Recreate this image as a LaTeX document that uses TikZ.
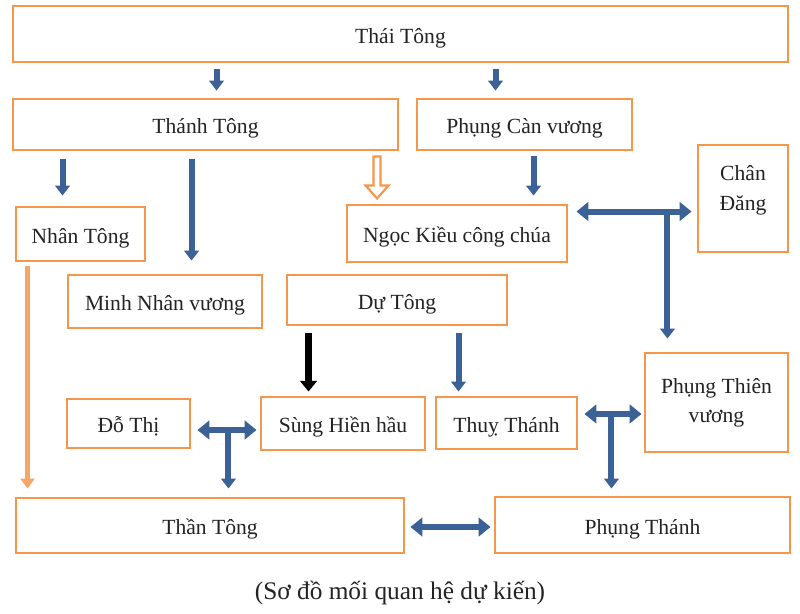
\documentclass[tikz,border=0pt]{standalone}
\usepackage{fontspec}
\setmainfont{Liberation Serif}
\usetikzlibrary{arrows.meta, calc}
\definecolor{boxorange}{RGB}{245,150,75}
\definecolor{arrowblue}{RGB}{59,97,150}
\definecolor{textgray}{RGB}{35,35,35}

\begin{document}
\begin{tikzpicture}[
  x=0.75pt, y=-0.75pt,
  pbox/.style={draw=boxorange, line width=2.2pt, align=center, inner sep=0pt, text=textgray, font=\fontsize{16.2}{22}\selectfont},
  oneline/.style={text height=1.6em, text depth=0.22em},
  boxsize/.style 2 args={minimum width=#1*0.75pt, minimum height=#2*0.75pt},
  blockarrow/.style={draw=arrowblue, line width=4.5pt, -{Triangle[width=11pt,length=7.5pt]}},
  dblarrow/.style={draw=arrowblue, line width=4.5pt, {Triangle[width=14pt,length=9pt]}-{Triangle[width=14pt,length=9pt]}},
  blackarrow/.style={draw=black, line width=5pt, -{Triangle[width=12.5pt,length=8pt]}},
  orangearrow/.style={draw=boxorange!85, line width=3.6pt, -{Triangle[width=10.5pt,length=7.5pt]}},
  hollowarrow/.style={draw=boxorange, line width=1.6pt, fill=white, line join=miter}
]
  \useasboundingbox[fill=white] (0,0) rectangle (800,614);

  % boxes
  \node[pbox, oneline, boxsize={775}{56}] (thai) at (400.5,34) {Thái Tông};
  \node[pbox, oneline, boxsize={385}{51}] (thanh) at (205.5,124.5) {Thánh Tông};
  \node[pbox, oneline, boxsize={215}{51}] (phungcan) at (524.5,124.5) {Phụng Càn vương};
  \node[pbox, boxsize={90}{107}] (chandang) at (743,198.5) {Chân\\Đăng\\[-6pt]};
  \node[pbox, oneline, boxsize={220}{57}] (ngockieu) at (457,233.5) {Ngọc Kiều công chúa};
  \node[pbox, oneline, boxsize={129}{54}] (nhan) at (80.5,234) {Nhân Tông};
  \node[pbox, oneline, boxsize={194}{53}] (minhnhan) at (165,301.5) {Minh Nhân vương};
  \node[pbox, oneline, boxsize={220}{50}] (du) at (397,300) {Dự Tông};
  \node[pbox, boxsize={143}{99}] (phungthien) at (716.5,402.5) {Phụng Thiên\\vương};
  \node[pbox, oneline, boxsize={123}{49}] (dothi) at (128.5,423.5) {Đỗ Thị};
  \node[pbox, oneline, boxsize={164}{53}] (sunghien) at (343,423.5) {Sùng Hiền hầu};
  \node[pbox, oneline, boxsize={141}{52}] (thuy) at (506.5,423) {Thuỵ Thánh};
  \node[pbox, oneline, boxsize={388}{55}] (than) at (210,525.5) {Thần Tông};
  \node[pbox, oneline, boxsize={295}{56}] (phungthanh) at (642.5,525) {Phụng Thánh};
  \node[text=textgray, font=\fontsize{19}{23}\selectfont] (caption) at (400,593) {(Sơ đồ mối quan hệ dự kiến)};

  % start points of the arrows
  \coordinate (s1) at ($(thai.south west)+(205,6)$);
  \coordinate (s2) at ($(thai.south west)+(484,6)$);
  \coordinate (s3) at ($(thanh.south west)+(51,8)$);
  \coordinate (s4) at ($(thanh.south west)+(180,8)$);
  \coordinate (s5) at ($(phungcan.south west)+(118,5)$);
  \coordinate (s6) at ($(du.south west)+(173,7)$);
  \coordinate (s7) at ($(du.south west)+(23,7)$);
  \coordinate (s8) at ($(nhan.south west)+(13,4)$);
  \coordinate (nk) at ($(ngockieu.north east)+(8,8)$);
  \coordinate (dt) at ($(dothi.east)+(6,6.5)$);
  \coordinate (ty) at ($(thuy.east)+(6,-9)$);
  \coordinate (tt) at ($(than.east)+(5,1.5)$);

  % vertical arrows
  \draw[blockarrow, shorten >=5.25pt] (s1) -- (s1 |- thanh.north);
  \draw[blockarrow, shorten >=5.25pt] (s2) -- (s2 |- phungcan.north);
  \draw[blockarrow, shorten >=7.5pt] (s3) -- (s3 |- nhan.north);
  \draw[blockarrow, shorten >=9.75pt] (s4) -- (s4 |- minhnhan.north);
  \draw[blockarrow, shorten >=6pt] (s5) -- (s5 |- ngockieu.north);
  \draw[blockarrow, shorten >=3pt] (s6) -- (s6 |- thuy.north);
  \draw[blackarrow, shorten >=3pt] (s7) -- (s7 |- sunghien.north);
  \draw[orangearrow, shorten >=6pt] (s8) -- (s8 |- than.north);
  \draw[hollowarrow] ($(thanh.south west)+(362,5)$) -- ++(7,0) -- ++(0,29) -- ++(8,0)
    -- ++(-11.5,13) -- ++(-11.5,-13) -- ++(8,0) -- cycle;

  % double arrows with branch
  \draw[dblarrow, shorten >=3.75pt] (nk) -- (nk -| chandang.west);
  \draw[blockarrow, shorten >=9.75pt] ($(nk)+(91,0)$) coordinate (nkt) -- (nkt |- phungthien.north);
  \draw[dblarrow, shorten >=2.25pt] (dt) -- (dt -| sunghien.west);
  \draw[blockarrow, shorten >=6pt] ($(dt)+(31,0)$) coordinate (dtt) -- (dtt |- than.north);
  \draw[dblarrow, shorten >=1.5pt] (ty) -- (ty -| phungthien.west);
  \draw[blockarrow, shorten >=5.25pt] ($(ty)+(27,0)$) coordinate (tyt) -- (tyt |- phungthanh.north);
  \draw[dblarrow, shorten >=2.25pt] (tt) -- (tt -| phungthanh.west);
\end{tikzpicture}
\end{document}
